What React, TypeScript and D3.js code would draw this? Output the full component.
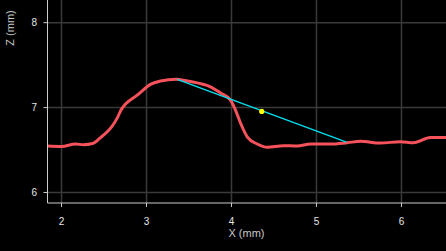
import React from "react";
import * as d3 from "d3";

const profileX = [1.824, 2.0, 2.165, 2.259, 2.365, 2.459, 2.538, 2.596, 2.655, 2.706, 2.753, 2.891, 3.047, 3.165, 3.353, 3.518, 3.635, 3.753, 3.871, 3.988, 4.047, 4.106, 4.185, 4.302, 4.42, 4.612, 4.773, 4.929, 5.165, 5.361, 5.518, 5.753, 5.988, 6.141, 6.341, 6.529];
const profileZ = [6.547, 6.541, 6.571, 6.562, 6.576, 6.647, 6.715, 6.782, 6.876, 6.982, 7.041, 7.147, 7.273, 7.312, 7.335, 7.306, 7.282, 7.245, 7.171, 7.088, 6.971, 6.818, 6.656, 6.571, 6.532, 6.551, 6.547, 6.571, 6.571, 6.586, 6.602, 6.582, 6.598, 6.586, 6.647, 6.647];
const chordX = [3.361, 5.353];
const chordZ = [7.332, 6.594];
const midX = [4.356];
const midZ = [6.955];
const xTicks = [2, 3, 4, 5, 6];
const zTicks = [6, 7, 8];

const W = 446, H = 251;
const L = 47.5, R = 446, T = 0, B = 203;

export default function App() {
  const x = d3.scaleLinear().domain([1.835, 6.524]).range([L, R]);
  const y = d3.scaleLinear().domain([5.876, 8.267]).range([B, T]);
  const line = d3.line<number>().x((_, i) => x(profileX[i])).y((d) => y(d)).curve(d3.curveMonotoneX);
  const chord = d3.line<number>().x((_, i) => x(chordX[i])).y((d) => y(d));
  const font = "'Liberation Sans', Arial, sans-serif";
  return (
    <div style={{ position: "fixed", left: 0, top: 0, width: W, height: H, background: "#000" }}>
      <svg width={W} height={H} style={{ display: "block" }}>
        <rect width={W} height={H} fill="#000" />
        <defs>
          <clipPath id="plot">
            <rect x={L} y={T} width={R - L} height={B - T} />
          </clipPath>
        </defs>
        {xTicks.map((t) => (
          <line key={"gx" + t} x1={x(t)} x2={x(t)} y1={T} y2={B} stroke="#3a3a3a" strokeWidth={1.5} />
        ))}
        {zTicks.map((t) => (
          <line key={"gy" + t} x1={L} x2={R} y1={y(t)} y2={y(t)} stroke="#3a3a3a" strokeWidth={1.5} />
        ))}
        <g clipPath="url(#plot)">
          <path d={line(profileZ) || ""} fill="none" stroke="#f6525b" strokeWidth={3} strokeLinejoin="round" strokeLinecap="round" />
          <path d={chord(chordZ) || ""} fill="none" stroke="#00e1ef" strokeWidth={1.3} />
          {midX.map((mx, i) => (
            <circle key={i} cx={x(mx)} cy={y(midZ[i])} r={2.6} fill="#ffff00" />
          ))}
        </g>
        <line x1={L} x2={L} y1={T} y2={B} stroke="#cccccc" strokeWidth={1} />
        <line x1={L} x2={R} y1={B} y2={B} stroke="#cccccc" strokeWidth={1} />
        {xTicks.map((t) => (
          <g key={"tx" + t}>
            <line x1={x(t)} x2={x(t)} y1={B} y2={B + 4} stroke="#cccccc" />
            <text x={x(t)} y={225} textAnchor="middle" fontSize={10} fontFamily={font} fill="#e6e6e6">{t}</text>
          </g>
        ))}
        {zTicks.map((t) => (
          <g key={"ty" + t}>
            <line x1={L - 4} x2={L} y1={y(t)} y2={y(t)} stroke="#cccccc" />
            <text x={37} y={y(t) + 3.5} textAnchor="end" fontSize={10} fontFamily={font} fill="#e6e6e6">{t}</text>
          </g>
        ))}
        <text x={246.5} y={237} textAnchor="middle" fontSize={11} fontFamily={font} fill="#c8c8c8">X (mm)</text>
        <text transform="translate(14,28) rotate(-90)" textAnchor="middle" fontSize={11} fontFamily={font} fill="#c8c8c8">Z (mm)</text>
      </svg>
    </div>
  );
}
